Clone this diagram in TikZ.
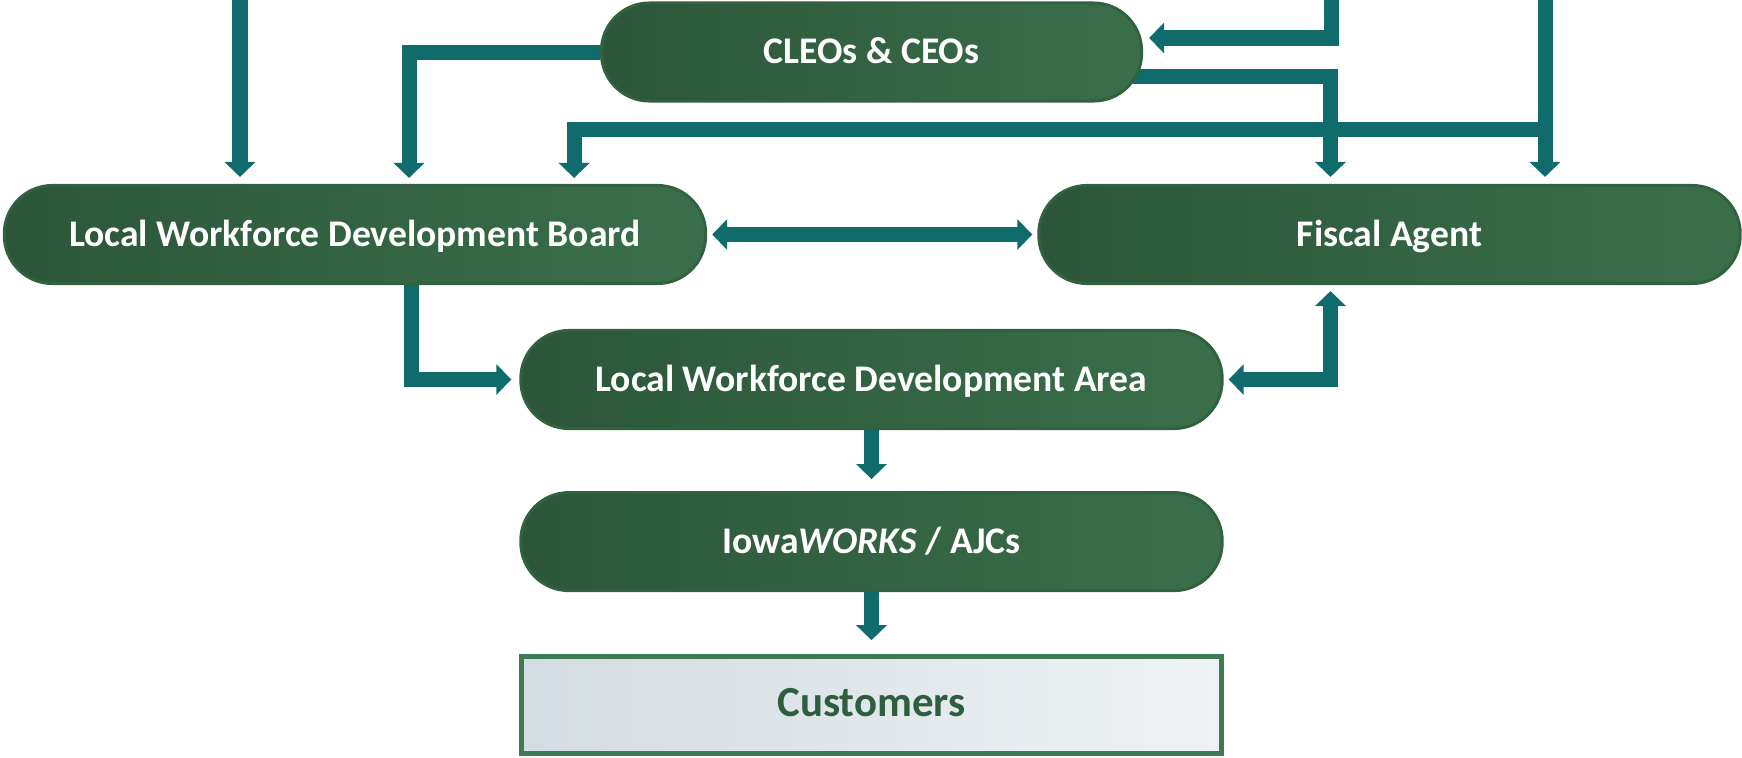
\documentclass[tikz,border=0pt]{standalone}
\usepackage{fontspec}
\setmainfont{Carlito}
\usetikzlibrary{positioning, arrows.meta, backgrounds}

\definecolor{flowteal}{HTML}{106B6D}
\definecolor{pilldark}{HTML}{2C563A}
\definecolor{pilllight}{HTML}{3A6F4A}
\definecolor{pillborder}{HTML}{32613F}
\definecolor{custborder}{HTML}{3E7B52}
\definecolor{custtext}{HTML}{2E5E3E}
\definecolor{custleft}{HTML}{D3DCE2}
\definecolor{custright}{HTML}{EEF2F4}

\begin{document}
\begin{tikzpicture}[
            x=0.01cm, y=-0.01cm,
            pill/.style={
                rectangle,
                rounded corners=0.48cm,
                draw=pillborder,
                line width=0.03cm,
                left color=pilldark,
                right color=pilllight,
                minimum height=0.98cm,
                minimum width=7.01cm,
                text height=1.38ex,
                text depth=0pt,
                align=center,
                text=white,
                font=\fontsize{10.7}{12}\selectfont\bfseries
            },
            custbox/.style={
                rectangle,
                draw=custborder,
                line width=0.05cm,
                left color=custleft,
                right color=custright,
                minimum height=0.97cm,
                minimum width=6.99cm,
                text height=1.38ex,
                text depth=0pt,
                text=custtext,
                font=\fontsize{12.2}{14}\selectfont\bfseries
            },
            arrow/.style={-{Triangle[width=0.30cm, length=0.15cm]}, line width=0.15cm, draw=flowteal},
            dblarrow/.style={{Triangle[width=0.30cm, length=0.15cm]}-{Triangle[width=0.30cm, length=0.15cm]}, line width=0.15cm, draw=flowteal}
        ]
        \useasboundingbox (0,0) rectangle (1742,757);

        % Nodes
        \node[pill, minimum width=5.40cm] (CLEOs) at (871.5,52) {CLEOs \& CEOs};
        \node[pill] (LWDB) at (355,234.5) {Local Workforce Development Board};
        \node[pill] (Fiscal) at (1389.5,234.5) {Fiscal Agent};
        \node[pill] (LWDA) at (871.5,379.5) {Local Workforce Development Area};
        \node[pill, below=0.61cm of LWDA] (Iowa) {Iowa\textit{WORKS} / AJCs};
        \node[custbox, below=0.62cm of Iowa] (Customers) {Customers};

        % Free ends at the top
        \coordinate (top1) at (240,-5);
        \coordinate (top2) at (1331,-5);
        \coordinate (top3) at (1545,-5);
        \coordinate (split) at (1545,129);

        % Arrows
        \begin{scope}[on background layer]
        \draw[arrow, shorten >=0.07cm] (top1) -- (top1 |- LWDB.north);
        \draw[arrow, shorten >=0.06cm] (CLEOs.west) -| ([xshift=4.06cm]LWDB.north west);
        \draw[arrow, shorten >=0.06cm] (top2) |- ([yshift=0.14cm]CLEOs.east);
        \draw[arrow, shorten >=0.07cm] ([yshift=-0.24cm, xshift=-0.1cm]CLEOs.east) -| ([xshift=2.93cm]Fiscal.north west);
        \draw[arrow, shorten >=0.07cm] (top3) -- (top3 |- Fiscal.north);
        \draw[arrow, shorten >=0.06cm] (split) -| ([xshift=5.71cm]LWDB.north west);
        \draw[dblarrow, shorten <=0.05cm, shorten >=0.05cm] (LWDB.east) -- (Fiscal.west);
        \draw[arrow, shorten >=0.08cm] ([xshift=4.08cm, yshift=0.1cm]LWDB.south west) |- (LWDA.west);
        \draw[dblarrow, shorten <=0.05cm, shorten >=0.06cm] (LWDA.east) -| ([xshift=2.93cm]Fiscal.south west);
        \draw[arrow, shorten >=0.12cm] (LWDA.south) -- (Iowa.north);
        \draw[arrow, shorten >=0.14cm] (Iowa.south) -- (Customers.north);
        \end{scope}

        \end{tikzpicture}
\end{document}
